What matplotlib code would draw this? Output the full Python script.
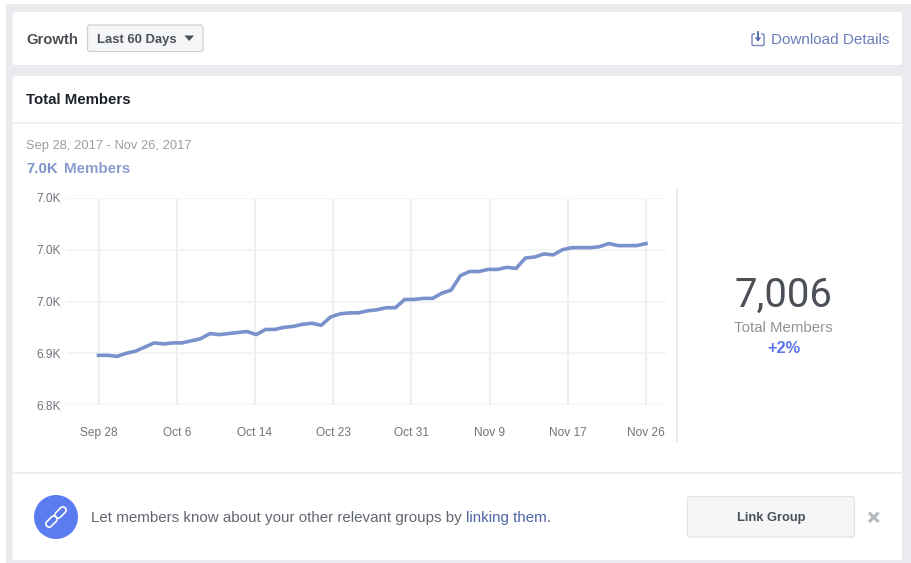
import numpy as np
import matplotlib
matplotlib.use("Agg")
import matplotlib.pyplot as plt
from matplotlib.patches import FancyBboxPatch, Rectangle, Circle, Polygon
from matplotlib.transforms import Affine2D

plt.rcParams['font.family'] = ['Liberation Sans', 'DejaVu Sans']

members = [6898, 6898, 6897, 6900, 6902, 6906, 6910, 6909, 6910, 6910,
           6912, 6914, 6919, 6918, 6919, 6920, 6921, 6918, 6923, 6923,
           6925, 6926, 6928, 6929, 6927, 6935, 6938, 6939, 6939, 6941,
           6942, 6944, 6944, 6952, 6952, 6953, 6953, 6958, 6961, 6975,
           6979, 6979, 6981, 6981, 6983, 6982, 6992, 6993, 6996, 6995,
           7000, 7002, 7002, 7002, 7003, 7006, 7004, 7004, 7004, 7006]
date_labels = ["Sep 28", "Oct 6", "Oct 14", "Oct 23", "Oct 31", "Nov 9", "Nov 17", "Nov 26"]
y_ticks = [6850, 6900, 6950, 7000, 7050]
y_labels = ["6.8K", "6.9K", "7.0K", "7.0K", "7.0K"]

W, H = 912, 563
fig = plt.figure(figsize=(W / 100, H / 100), dpi=100, facecolor="white")

# page furniture, in pixel coordinates
bg = fig.add_axes([0, 0, 1, 1], zorder=0)
bg.set_xlim(0, W); bg.set_ylim(H, 0); bg.axis("off")

BG = "#e9ebee"
bg.add_patch(Rectangle((6, 4), W - 6, H - 4, fc=BG, ec="none"))

def card(x0, y0, x1, y1, fc="white", ec="none", r=2.5, lw=1, z=1):
    bg.add_patch(FancyBboxPatch((x0 + r, y0 + r), x1 - x0 - 2 * r, y1 - y0 - 2 * r,
                                boxstyle=f"round,pad={r},rounding_size={r}",
                                fc=fc, ec=ec, lw=lw, zorder=z))

card(12.5, 12, 902, 65)
card(12.5, 76, 902, 560)
bg.plot([12.5, 902], [123, 123], color="#eceef0", lw=1.1, zorder=2)
bg.plot([12.5, 902], [472.5, 472.5], color="#e9ebee", lw=1.1, zorder=2)
bg.plot([677, 677], [190, 441], color="#e9ebee", lw=1.4, zorder=2)

def txt(x, y, s, size, color, weight="normal", ha="left", **kw):
    return bg.text(x, y + 1, s, fontsize=size, color=color, fontweight=weight,
                   ha=ha, va="center", zorder=5, **kw)

txt(26, 39.5, "Growth", 10.7, "#4b4f56", "bold")
card(87.5, 25, 203, 51.5, fc="#f5f6f7", ec="#ccd0d5", lw=0.9, z=3)
txt(97.5, 38.5, "Last 60 Days", 9.4, "#4b4f56", "bold")
bg.add_patch(Polygon([[184.5, 35.5], [194, 35.5], [189.2, 41]], fc="#4b4f56", ec="none", zorder=5))

# download icon
bg.add_patch(FancyBboxPatch((752, 34), 12, 11.5, boxstyle="round,pad=0,rounding_size=1.5",
                            fc="none", ec="#7d8fc6", lw=1.1, zorder=5))
bg.add_patch(Rectangle((755, 31), 6, 5, fc="white", ec="none", zorder=6))
bg.plot([758, 758], [32, 40], color="#4f68ad", lw=1.3, zorder=7)
bg.add_patch(Polygon([[754.8, 37.5], [761.2, 37.5], [758, 41.5]], fc="#4f68ad", ec="none", zorder=7))
txt(771, 38.5, "Download Details", 11, "#6a7dbb")

txt(26.5, 99.5, "Total Members", 10.8, "#1d2129", "bold")
txt(26, 144.5, "Sep 28, 2017 - Nov 26, 2017", 9.3, "#9a9da3")
txt(26, 168, "7.0K", 10.8, "#7f93c9", "bold")
txt(64, 168, "Members", 10.9, "#8b9dd0", "bold")

txt(783.5, 294.5, "7,006", 28.8, "#4b4f56", ha="center", family="Roboto")
txt(783.5, 327.5, "Total Members", 10.8, "#90949c", ha="center")
txt(783.5, 347.5, "+2%", 11.8, "#5b74ee", "bold", ha="center")

# link banner
bg.add_patch(Circle((56, 517), 22, fc="#5b7bf0", ec="none", zorder=4))
for cx, cy in [(51.5, 521.5), (60.5, 512.5)]:
    tr = Affine2D().rotate_deg_around(cx, cy, -45) + bg.transData
    bg.add_patch(FancyBboxPatch((cx - 6.5, cy - 3.2), 13, 6.4,
                                boxstyle="round,pad=0,rounding_size=3.2",
                                fc="none", ec="white", lw=1.2, zorder=5, transform=tr))
t1 = txt(91, 517, "Let members know about your other relevant groups by ", 10.92, "#616770")
fig.canvas.draw()
x1 = t1.get_window_extent().x1
t2 = txt(x1, 517, "linking them", 10.92, "#4f64a8")
x2 = t2.get_window_extent().x1
txt(x2, 517, ".", 10.92, "#616770")

card(687.5, 496.5, 854.5, 537, fc="#f5f6f7", ec="#e2e4e8", lw=0.9, z=3)
txt(771, 516.5, "Link Group", 9.3, "#4b4f56", "bold", ha="center")
bg.plot([869, 878.5], [512.5, 522], color="#b4b8bf", lw=2.2, zorder=5, solid_capstyle="butt")
bg.plot([869, 878.5], [522, 512.5], color="#b4b8bf", lw=2.2, zorder=5, solid_capstyle="butt")

# the chart
left, right, top, bottom = 66, 666, 198, 405
ax = fig.add_axes([left / W, 1 - bottom / H, (right - left) / W, (bottom - top) / H], zorder=3)
ax.patch.set_alpha(0)
px_per_idx = (646 - 98.5) / 59
ax.set_xlim(-(98.5 - left) / px_per_idx, 59 + (right - 646) / px_per_idx)
ax.set_ylim(y_ticks[0], y_ticks[-1])
for s in ax.spines.values():
    s.set_visible(False)

x = np.arange(len(members))
tick_pos = np.linspace(0, len(members) - 1, len(date_labels))
ax.set_xticks(tick_pos, date_labels)
ax.set_yticks(y_ticks, y_labels)
ax.tick_params(length=0, labelsize=8.6, labelcolor="#6f747c")
ax.tick_params(axis="x", pad=16)
ax.tick_params(axis="y", pad=4)
ax.grid(True, axis="y", color="#f0f1f3", lw=1.1)
ax.grid(True, axis="x", color="#e9ebee", lw=1.1)
ax.set_axisbelow(True)
ax.plot(x, members, color="#7a92cc", lw=2.6, solid_joinstyle="round", clip_on=False)

fig.savefig("out.png", dpi=100)
